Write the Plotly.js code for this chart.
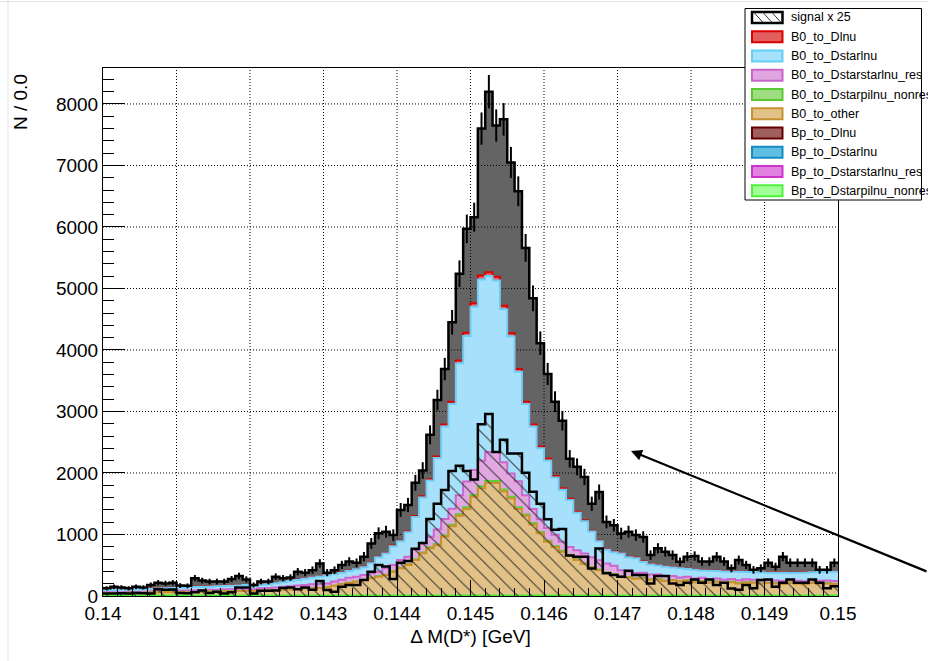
<!DOCTYPE html>
<html><head><meta charset="utf-8">
<script src="https://cdn.plot.ly/plotly-3.0.1.min.js"></script>
<style>html,body{margin:0;padding:0;background:#fff}#chart{width:928px;height:661px}</style>
</head><body><div id="chart"></div>
<script>
// ---- binning ----
const binLow = 0.140, binWidth = 0.0001, nBins = 100;

// ---- data (black points, gray fill) ----
const data_total = [
125,150,140,125,150,140,180,215,205,215,
170,165,290,250,235,235,235,275,325,270,
180,235,235,315,290,300,395,380,420,530,
380,420,505,560,540,640,855,1020,1045,990,
1400,1480,1840,2040,2620,3185,3690,4450,5240,5970,
6160,7600,8200,7650,7750,7050,6580,5660,4840,4110,
3610,3160,2850,2230,2100,1935,1500,1690,1205,1150,
1015,1045,990,960,665,775,720,665,555,640,
650,560,560,640,560,450,585,505,425,450,
540,475,640,540,540,540,540,425,425,540];
const data_err = [
34,37,35,34,37,35,40,44,43,44,
39,39,51,47,46,46,46,50,54,49,
40,46,46,53,51,52,60,58,61,69,
58,61,67,71,70,76,88,96,97,94,
112,115,129,135,154,169,182,200,217,232,
235,262,272,262,264,252,243,226,209,192,
180,169,160,142,137,132,116,123,104,102,
96,97,94,93,77,84,80,77,71,76,
76,71,71,76,71,64,73,67,62,64,
70,65,76,70,70,70,70,62,62,70];

// ---- signal x 25 (hatched) ----
const signal_x25 = [
40,40,45,40,50,45,40,110,100,105,
50,45,60,90,50,70,40,60,140,140,
40,85,85,90,130,140,108,140,100,244,
98,70,150,180,180,260,395,505,480,275,
540,570,770,860,1250,1500,1725,2034,2118,2034,
1893,2792,2961,2343,2539,2315,2315,2006,1697,1500,
1247,1079,1090,657,638,638,449,773,368,340,
313,410,340,340,205,324,324,205,178,216,
270,215,270,180,215,120,100,180,125,260,
270,150,215,270,215,215,270,215,125,160];

// ---- stacked MC components ----
const B0_to_Dlnu = [
3,3,3,3,3,3,3,3,3,3,
3,3,3,3,3,3,3,3,3,3,
3,3,3,3,3,3,3,3,3,3,
5,5,5,5,6,6,7,8,9,10,
11,13,16,20,23,28,34,38,46,52,
57,62,63,62,57,51,44,38,34,29,
27,23,21,19,16,15,13,11,9,9,
8,8,7,7,6,6,6,6,5,5,
5,5,5,5,5,5,5,5,5,5,
5,5,5,5,5,5,5,5,5,5];
const B0_to_Dstarlnu = [
37,40,40,39,42,42,41,44,43,46,
51,49,53,53,52,55,54,57,56,59,
52,57,60,67,72,82,92,102,112,122,
130,120,115,110,119,129,165,237,241,306,
304,397,536,744,912,1162,1506,1702,2144,2368,
2653,2948,2858,2785,2489,2233,1781,1482,1340,1154,
1096,933,847,763,609,525,417,309,221,221,
274,232,238,173,164,144,154,139,150,127,
140,118,140,120,137,117,139,119,125,135,
121,126,136,112,127,142,128,143,138,153];
const B0_to_Dstarstarlnu_res = [
13,15,15,16,18,18,19,21,22,24,
24,26,27,27,28,30,31,33,34,36,
28,38,40,43,48,53,53,58,63,63,
62,67,71,81,80,75,72,74,103,101,
126,125,151,148,174,237,265,263,312,416,
408,415,473,473,443,377,423,313,231,207,
208,181,148,128,149,159,160,151,142,133,
100,95,90,85,80,75,70,65,60,58,
55,52,50,50,48,48,46,46,45,45,
44,44,44,43,43,43,42,42,42,42];
const B0_to_Dstarpilnu_nonres = [
2,2,2,2,2,2,2,2,2,2,
2,2,2,2,2,2,2,2,2,2,
2,2,2,2,2,2,2,2,2,2,
3,3,4,4,5,5,6,6,7,8,
9,10,12,14,16,17,19,22,25,28,
30,32,33,33,31,29,26,24,22,20,
17,15,14,13,12,11,10,9,8,7,
5,5,5,5,5,5,5,5,5,5,
5,5,5,5,5,5,5,5,5,5,
5,5,5,5,5,5,5,5,5,5];
const B0_to_other = [
45,45,45,50,50,50,55,55,60,60,
60,60,65,65,70,70,75,75,80,80,
80,85,90,95,100,105,115,120,125,130,
140,165,190,210,230,260,290,315,340,395,
450,505,585,694,775,826,966,1135,1303,1416,
1612,1753,1837,1837,1700,1584,1416,1303,1163,1020,
882,798,720,657,584,520,460,420,380,350,
313,300,280,290,265,270,245,255,235,250,
225,240,215,230,210,225,205,220,215,200,
210,205,195,215,200,190,210,200,205,195];
// B+ components read as empty (only their outline at zero is visible)
const Bp_to_Dlnu = Array(nBins).fill(0);
const Bp_to_Dstarlnu = Array(nBins).fill(0);
const Bp_to_Dstarstarlnu_res = Array(nBins).fill(0);
const Bp_to_Dstarpilnu_nonres = Array(nBins).fill(0);

// ---- axis ticks ----
const xTickVals = [0.140,0.141,0.142,0.143,0.144,0.145,0.146,0.147,0.148,0.149,0.150];
const xTickText = ["0.14","0.141","0.142","0.143","0.144","0.145","0.146","0.147","0.148","0.149","0.15"];
const yTickVals = [0,1000,2000,3000,4000,5000,6000,7000,8000];
const yTickText = ["0","1000","2000","3000","4000","5000","6000","7000","8000"];
const yMax = 8585;

// ---- styles ----
const stackDefs = [ // bottom -> top
 {name:'Bp_to_Dstarpilnu_nonres', vals:Bp_to_Dstarpilnu_nonres, fill:'#a3ff94', line:'#40f030'},
 {name:'Bp_to_Dstarstarlnu_res', vals:Bp_to_Dstarstarlnu_res, fill:'#e385e3', line:'#cc33cc'},
 {name:'Bp_to_Dstarlnu', vals:Bp_to_Dstarlnu, fill:'#62bde3', line:'#178ec4'},
 {name:'Bp_to_Dlnu', vals:Bp_to_Dlnu, fill:'#9c6060', line:'#640000'},
 {name:'B0_to_other', vals:B0_to_other, fill:'#e2c186', line:'#cc8f2e'},
 {name:'B0_to_Dstarpilnu_nonres', vals:B0_to_Dstarpilnu_nonres, fill:'#a2de8a', line:'#5ccc38'},
 {name:'B0_to_Dstarstarlnu_res', vals:B0_to_Dstarstarlnu_res, fill:'#e2a8e2', line:'#cc66cc'},
 {name:'B0_to_Dstarlnu', vals:B0_to_Dstarlnu, fill:'#a6e0fa', line:'#6dcdf5'},
 {name:'B0_to_Dlnu', vals:B0_to_Dlnu, fill:'#e06464', line:'#dd0000'}
];

const edges = [];
for (let i = 0; i <= nBins; i++) edges.push(+(binLow + i*binWidth).toFixed(7));
const centers = [];
for (let i = 0; i < nBins; i++) centers.push(+(binLow + (i+0.5)*binWidth).toFixed(7));
const stepY = v => v.concat([v[v.length-1]]);

const traces = [];
// data gray fill
traces.push({x:edges, y:stepY(data_total), type:'scatter', mode:'lines', line:{shape:'hv', width:0, color:'#646464'},
  fill:'tozeroy', fillcolor:'#646464', hoverinfo:'skip', showlegend:false});
// grid (drawn above the data fill, below the stack)
const gx = [], gy = [];
xTickVals.forEach(v => { if (v > xTickVals[0] && v < xTickVals[xTickVals.length-1]) { gx.push(v, v, null); gy.push(0, yMax, null); } });
yTickVals.forEach(v => { if (v > 0) { gx.push(xTickVals[0], xTickVals[xTickVals.length-1], null); gy.push(v, v, null); } });
traces.push({x:gx, y:gy, type:'scatter', mode:'lines', line:{color:'#000', width:1, dash:'1px,2px'}, hoverinfo:'skip', showlegend:false, connectgaps:false});
// stack
const cum = [];
let running = Array(nBins).fill(0);
stackDefs.forEach(d => { running = running.map((r, i) => r + d.vals[i]); cum.push(running.slice()); });
for (let k = stackDefs.length - 1; k >= 0; k--) {
  const d = stackDefs[k];
  traces.push({x:edges, y:stepY(cum[k]), type:'scatter', mode:'lines', name:d.name,
    line:{shape:'hv', width:(k===0?3:2), color:d.line}, fill:'tozeroy', fillcolor:d.fill, hoverinfo:'skip', showlegend:false});
}
// signal hatched
traces.push({x:edges, y:stepY(signal_x25), type:'scatter', mode:'lines', name:'signal x 25',
  line:{shape:'hv', width:2.5, color:'#000'}, fill:'tozeroy', fillcolor:'rgba(0,0,0,0)',
  fillpattern:{shape:'\\', fgcolor:'#333', bgcolor:'rgba(0,0,0,0)', size:10, solidity:0.1},
  hoverinfo:'skip', showlegend:false});
// data outline + errors
traces.push({x:edges, y:stepY(data_total), type:'scatter', mode:'lines', line:{shape:'hv', width:2.5, color:'#000'}, hoverinfo:'skip', showlegend:false});
traces.push({x:centers, y:data_total, type:'scatter', mode:'markers', marker:{size:1, color:'rgba(0,0,0,0)'},
  error_y:{type:'data', array:data_err, visible:true, color:'#000', thickness:2, width:0}, hoverinfo:'skip', showlegend:false});

// ---- layout helpers (pixel -> paper) ----
const L = 103, T = 68, W = 735, H = 528;
const px = x => (x - L) / W;
const py = y => (T + H - y) / H;

const shapes = [], annotations = [];
// faint canvas frame
shapes.push({type:'line', xref:'paper', yref:'paper', x0:px(8), x1:px(8), y0:py(0), y1:py(661), line:{color:'#e6e6e6', width:1}, layer:'below'});
shapes.push({type:'line', xref:'paper', yref:'paper', x0:px(0), x1:px(928), y0:py(1.5), y1:py(1.5), line:{color:'#e6e6e6', width:1}, layer:'below'});

// legend
const legendEntries = [
 {name:'signal x 25', fill:'#ffffff', line:'#000000', hatch:true},
 {name:'B0_to_Dlnu', fill:'#e15f5f', line:'#dc0000'},
 {name:'B0_to_Dstarlnu', fill:'#a5e1fa', line:'#64cdfa'},
 {name:'B0_to_Dstarstarlnu_res', fill:'#e1a5e1', line:'#c864c8'},
 {name:'B0_to_Dstarpilnu_nonres', fill:'#a0dc82', line:'#5ac832'},
 {name:'B0_to_other', fill:'#e1c387', line:'#c89132'},
 {name:'Bp_to_Dlnu', fill:'#a05f5f', line:'#640000'},
 {name:'Bp_to_Dstarlnu', fill:'#5fbee1', line:'#148cc3'},
 {name:'Bp_to_Dstarstarlnu_res', fill:'#e182e1', line:'#cd32cd'},
 {name:'Bp_to_Dstarpilnu_nonres', fill:'#a0ff96', line:'#50f03c'}
];
shapes.push({type:'rect', xref:'paper', yref:'paper', x0:px(745), x1:px(921.5), y0:py(8.5), y1:py(200), fillcolor:'#fff', line:{color:'#000', width:1}, layer:'above'});
legendEntries.forEach((e, i) => {
  const cy = 17.5 + 19.25*i;
  shapes.push({type:'rect', xref:'paper', yref:'paper', x0:px(752), x1:px(782.5), y0:py(cy-5.5), y1:py(cy+5.5),
    fillcolor:e.fill, line:{color:e.line, width:e.hatch?2.5:2}, layer:'above'});
  if (e.hatch) {
    [[754,763],[763,772],[772,781]].forEach(([a,b]) => shapes.push({type:'line', xref:'paper', yref:'paper',
      x0:px(a), x1:px(b), y0:py(cy-5), y1:py(cy+5), line:{color:'#333', width:1}, layer:'above'}));
  }
  annotations.push({xref:'paper', yref:'paper', x:px(789), y:py(cy), xanchor:'left', yanchor:'middle', showarrow:false,
    text:e.name, font:{size:12.5, color:'#000'}});
});
// y title
annotations.push({xref:'paper', yref:'paper', x:px(20), y:py(102), xanchor:'center', yanchor:'middle', showarrow:false,
  text:'N / 0.0', textangle:-90, font:{size:19, color:'#000'}});
// arrow
annotations.push({xref:'paper', yref:'paper', x:px(631), y:py(451), ax:297, ay:121, axref:'pixel', ayref:'pixel',
  showarrow:true, arrowhead:2, arrowsize:1, arrowwidth:2.2, arrowcolor:'#000', text:''});

const layout = {
  width:928, height:661,
  margin:{l:L, r:928-L-W, t:T, b:661-T-H, pad:0},
  paper_bgcolor:'#fff', plot_bgcolor:'#fff', showlegend:false,
  font:{family:'"Liberation Sans", Arial, Helvetica, sans-serif', color:'#000', size:19},
  xaxis:{range:[binLow, binLow + nBins*binWidth], tickmode:'array', tickvals:xTickVals, ticktext:xTickText,
    ticks:'inside', ticklen:16, tickwidth:1, tickcolor:'#000', showline:true, linecolor:'#000', linewidth:1, mirror:true,
    showgrid:false, zeroline:false, tickfont:{size:19},
    minor:{tickmode:'linear', tick0:binLow, dtick:0.0002, ticks:'inside', ticklen:8, tickcolor:'#000', showgrid:false},
    title:{text:'Δ M(D*) [GeV]', font:{size:19}, standoff:6}, fixedrange:true},
  yaxis:{range:[0, yMax], tickmode:'array', tickvals:yTickVals, ticktext:yTickText,
    ticks:'inside', ticklen:22, tickwidth:1, tickcolor:'#000', showline:true, linecolor:'#000', linewidth:1, mirror:true,
    showgrid:false, zeroline:false, tickfont:{size:19},
    minor:{tickmode:'linear', tick0:0, dtick:200, ticks:'inside', ticklen:11, tickcolor:'#000', showgrid:false}, fixedrange:true},
  shapes:shapes, annotations:annotations
};
Plotly.newPlot('chart', traces, layout, {staticPlot:true, displayModeBar:false});
</script>
</body></html>
